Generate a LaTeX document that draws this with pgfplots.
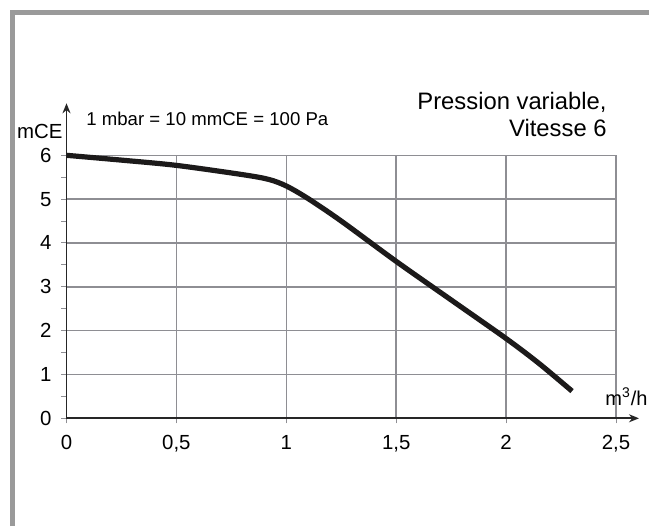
\documentclass[border=0pt]{standalone}
\usepackage{pgfplots}
\pgfplotsset{compat=1.18}
\usepackage{fontspec}
\setmainfont{Liberation Sans}
\usetikzlibrary{arrows.meta}
\definecolor{frame}{HTML}{9A9A9A}
\definecolor{gridc}{HTML}{8E8E93}
\definecolor{curve}{HTML}{1C1A1A}
\begin{document}
\begin{tikzpicture}
\useasboundingbox (0,0) rectangle (324.5pt,263pt);
\fill[white] (0,0) rectangle (324.5pt,263pt);
\draw[frame, line width=2.5pt] (6.25pt,0) -- (6.25pt,256.75pt) -- (324.5pt,256.75pt);
\begin{axis}[
  at={(33.25pt,53.85pt)}, anchor=south west,
  scale only axis, width=274.75pt, height=131.5pt,
  xmin=0, xmax=2.5, ymin=0, ymax=6,
  axis lines=left,
  axis line style={black!85, line width=0.9pt},
  x axis line style={-{Stealth[length=5pt,width=4pt]}, shorten >=-11.5pt},
  y axis line style={-{Stealth[length=5pt,width=4pt]}, shorten >=-26pt},
  xtick={0,0.5,1,1.5,2,2.5}, ytick={0,1,2,3,4,5,6},
  minor y tick num=1,
  tick align=outside,
  major tick length=2.5pt, minor tick length=2.5pt,
  tick style={gridc, line width=0.5pt},
  grid=major,
  major grid style={gridc, line width=0.75pt},
  /pgf/number format/use comma,
  /pgf/number format/assume math mode=true,
  ticklabel style={font=\fontsize{10.2}{12}\selectfont},
  xticklabel style={yshift=-2.5pt},
  yticklabel style={xshift=-1.5pt},
  clip=false,
]
\addplot[curve, line width=2.6pt, smooth, tension=0.5] coordinates {
(0,6.0) (0.25,5.89) (0.5,5.77) (0.8,5.56) (0.92,5.45) (1.0,5.3)
(1.1,5.01) (1.25,4.5) (1.5,3.58) (1.75,2.7) (2.0,1.82) (2.15,1.25) (2.3,0.62)
};
\end{axis}
\node[font=\fontsize{10.2}{12}\selectfont, anchor=base west, inner sep=0pt] at (8.35pt,193.85pt) {mCE};
\node[font=\fontsize{9.3}{11}\selectfont, anchor=base west, inner sep=0pt] at (43pt,200pt) {1 mbar = 10 mmCE = 100 Pa};
\node[font=\fontsize{11.9}{13}\selectfont, anchor=base east, inner sep=0pt] at (303.5pt,208pt) {Pression variable,};
\node[font=\fontsize{11.9}{13}\selectfont, anchor=base east, inner sep=0pt] at (303.5pt,194.5pt) {Vitesse 6};
\node[font=\fontsize{10}{12}\selectfont, anchor=base west, inner sep=0pt] at (302.5pt,60.5pt) {m\textsuperscript{3}/h};
\end{tikzpicture}
\end{document}
